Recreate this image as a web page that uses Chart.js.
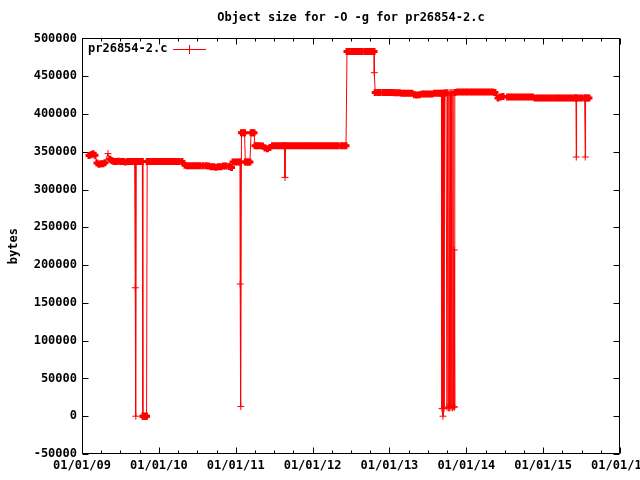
<!DOCTYPE html>
<html>
<head>
<meta charset="utf-8">
<script src="https://cdn.jsdelivr.net/npm/chart.js@4"></script>
<style>
  html, body { margin: 0; padding: 0; background: #fff; }
</style>
</head>
<body>
<canvas id="size_chart" width="640" height="480"></canvas>
<script>
// decimal year, object size in bytes (one entry per build)
const samples2009 = [
  [2009.091, 345000], [2009.117, 346000], [2009.143, 347500], [2009.169, 345500], [2009.195, 335000],
  [2009.221, 333500], [2009.247, 334000], [2009.273, 334000], [2009.299, 335500], [2009.338, 347500],
  [2009.364, 340000], [2009.390, 338000], [2009.416, 337000], [2009.445, 337000], [2009.475, 337500],
  [2009.505, 337000], [2009.535, 337000], [2009.565, 336500], [2009.595, 337000], [2009.625, 337000],
  [2009.655, 337000], [2009.685, 337000], [2009.693, 170000], [2009.696, 337000], [2009.700, 0],
  [2009.705, 337000], [2009.730, 337000], [2009.760, 337000], [2009.785, 337000], [2009.792, 0],
  [2009.805, 0], [2009.818, 0], [2009.830, 0], [2009.840, 0], [2009.848, 337000],
  [2009.875, 337000], [2009.905, 337000], [2009.935, 337000], [2009.965, 337000], [2009.995, 337000]
];
const samples2010 = [
  [2010.025, 337000], [2010.055, 337000], [2010.085, 337000], [2010.115, 337000], [2010.145, 337000],
  [2010.170, 337000], [2010.200, 337000], [2010.232, 337000], [2010.264, 337000], [2010.300, 337000],
  [2010.340, 332000], [2010.373, 331500], [2010.405, 331500], [2010.438, 331500], [2010.470, 331500],
  [2010.503, 331500], [2010.535, 331500], [2010.574, 331500], [2010.613, 331500], [2010.646, 331000],
  [2010.678, 330000], [2010.711, 330000], [2010.743, 329500], [2010.776, 330000], [2010.808, 330000],
  [2010.841, 331000], [2010.873, 331000], [2010.913, 330500], [2010.945, 329000], [2010.965, 336500],
  [2010.997, 336500]
];
const samples2011 = [
  [2011.030, 336500], [2011.055, 336500], [2011.058, 175000], [2011.061, 336500], [2011.066, 12800],
  [2011.075, 375000], [2011.095, 375000], [2011.115, 375000], [2011.125, 336500], [2011.145, 336500],
  [2011.165, 336500], [2011.185, 336500], [2011.200, 375000], [2011.220, 375000], [2011.238, 375000],
  [2011.251, 358000], [2011.283, 358000], [2011.316, 358000], [2011.348, 357500], [2011.381, 355000],
  [2011.413, 354000], [2011.446, 355500], [2011.479, 358000], [2011.511, 358000], [2011.544, 358000],
  [2011.576, 358000], [2011.609, 358000], [2011.635, 358000], [2011.641, 316000], [2011.648, 358000],
  [2011.680, 358000], [2011.713, 358000], [2011.745, 358000], [2011.778, 358000], [2011.810, 358000],
  [2011.843, 358000], [2011.875, 358000], [2011.908, 358000], [2011.940, 358000], [2011.973, 358000]
];
const samples2012 = [
  [2012.005, 358000], [2012.038, 358000], [2012.070, 358000], [2012.103, 358000], [2012.136, 358000],
  [2012.168, 358000], [2012.201, 358000], [2012.233, 358000], [2012.266, 358000], [2012.298, 358000],
  [2012.331, 358000], [2012.370, 358000], [2012.402, 358000], [2012.435, 358000], [2012.448, 482500],
  [2012.480, 482500], [2012.513, 482500], [2012.545, 482500], [2012.578, 482500], [2012.610, 482500],
  [2012.643, 482500], [2012.680, 482500], [2012.710, 482500], [2012.740, 482500], [2012.773, 482500],
  [2012.800, 482500], [2012.803, 454600], [2012.815, 428500], [2012.848, 428500], [2012.880, 428500],
  [2012.920, 428500], [2012.950, 428500], [2012.980, 428500]
];
const samples2013 = [
  [2013.010, 428500], [2013.040, 428500], [2013.070, 428000], [2013.100, 428000], [2013.131, 428000],
  [2013.163, 427500], [2013.196, 427500], [2013.228, 427500], [2013.261, 427500], [2013.294, 427500],
  [2013.326, 425500], [2013.359, 425000], [2013.391, 425500], [2013.424, 426500], [2013.456, 426500],
  [2013.489, 426500], [2013.521, 426500], [2013.554, 426500], [2013.586, 427500], [2013.619, 427500],
  [2013.651, 427500], [2013.677, 427500], [2013.684, 10000], [2013.690, 427500], [2013.697, 0],
  [2013.703, 427500], [2013.710, 10000], [2013.716, 427500], [2013.736, 428000], [2013.749, 12000],
  [2013.758, 428000], [2013.767, 11000], [2013.775, 428000], [2013.784, 11000], [2013.793, 428000],
  [2013.801, 12000], [2013.810, 428000], [2013.819, 11000], [2013.827, 428000], [2013.835, 12800],
  [2013.843, 220000], [2013.848, 12000], [2013.853, 428500], [2013.885, 429000], [2013.918, 429000],
  [2013.950, 429000], [2013.983, 429000]
];
const samples2014 = [
  [2014.015, 429000], [2014.048, 429000], [2014.081, 429000], [2014.113, 429000], [2014.146, 429000],
  [2014.178, 429000], [2014.211, 429000], [2014.243, 429000], [2014.276, 429000], [2014.308, 429000],
  [2014.341, 429000], [2014.373, 428500], [2014.393, 425000], [2014.413, 421000], [2014.445, 422500],
  [2014.478, 423000], [2014.536, 422500], [2014.569, 422500], [2014.601, 422500], [2014.634, 422500],
  [2014.666, 422500], [2014.699, 422500], [2014.731, 422500], [2014.764, 422500], [2014.796, 422500],
  [2014.829, 422500], [2014.861, 422500], [2014.894, 421000], [2014.926, 421000], [2014.959, 421000],
  [2014.991, 421000]
];
const samples2015 = [
  [2015.024, 421000], [2015.056, 421000], [2015.089, 421000], [2015.121, 421000], [2015.154, 421000],
  [2015.186, 421000], [2015.213, 421000], [2015.245, 421000], [2015.278, 421000], [2015.310, 421000],
  [2015.343, 421000], [2015.375, 421000], [2015.408, 421000], [2015.427, 421000], [2015.431, 343000],
  [2015.435, 421000], [2015.466, 421000], [2015.499, 421000], [2015.540, 421000], [2015.548, 343000],
  [2015.552, 421000], [2015.577, 421000], [2015.596, 421000]
];

const yearTicks = [2009, 2010, 2011, 2012, 2013, 2014, 2015, 2016];
const yearLabels = ['01/01/09', '01/01/10', '01/01/11', '01/01/12', '01/01/13', '01/01/14', '01/01/15', '01/01/16'];
const byteTicks = [-50000, 0, 50000, 100000, 150000, 200000, 250000, 300000, 350000, 400000, 450000, 500000];

const allSamples = [].concat(samples2009, samples2010, samples2011, samples2012, samples2013, samples2014, samples2015);

const seriesColor = '#ff0000';
const monoFont = { family: '"DejaVu Sans Mono", monospace', size: 12, weight: 'bold' };

// builds that sit in a run of near-equal sizes get heavier crosses so the run reads as a solid bar
function inRun(i) {
  const near = j => allSamples[j] &&
    Math.abs(allSamples[j][0] - allSamples[i][0]) < 0.045 &&
    Math.abs(allSamples[j][1] - allSamples[i][1]) < 3000;
  return near(i - 1) || near(i + 1);
}

// gnuplot style border with inward ticks (mirrored on top/right)
const frameTicks = {
  id: 'frameTicks',
  beforeDatasetsDraw(chart) {
    const { ctx, chartArea: a, scales: { x, y } } = chart;
    const L = Math.round(a.left) + 0.5, R = Math.round(a.right) - 0.5;
    const T = Math.round(a.top) + 0.5, B = Math.round(a.bottom) - 0.5;
    ctx.save();
    ctx.strokeStyle = '#000';
    ctx.lineWidth = 1;
    ctx.beginPath();
    ctx.rect(L, T, R - L, B - T);
    yearTicks.forEach((yr, i) => {
      [0, 0.25, 0.5, 0.75].forEach(q => {
        if (q && i === yearTicks.length - 1) return;
        const px = Math.round(x.getPixelForValue(yr + q)) + 0.5;
        const len = q ? 3 : 6;
        ctx.moveTo(px, B); ctx.lineTo(px, B - len);
        ctx.moveTo(px, T); ctx.lineTo(px, T + len);
      });
    });
    byteTicks.forEach(v => {
      const py = Math.round(y.getPixelForValue(v)) + 0.5;
      ctx.moveTo(L, py); ctx.lineTo(L + 6, py);
      ctx.moveTo(R, py); ctx.lineTo(R - 6, py);
    });
    ctx.stroke();
    ctx.restore();
  }
};

// key in the top left corner: text first, then line sample
const keyBox = {
  id: 'keyBox',
  afterDatasetsDraw(chart) {
    const ds = chart.data.datasets[0];
    const { ctx, chartArea: a } = chart;
    const ty = Math.round(a.top + 11);
    ctx.save();
    ctx.font = 'bold 12px "DejaVu Sans Mono", monospace';
    ctx.fillStyle = '#000';
    ctx.textBaseline = 'middle';
    ctx.textAlign = 'left';
    ctx.fillText(ds.label, a.left + 6, ty);
    ctx.strokeStyle = seriesColor;
    ctx.lineWidth = 1;
    ctx.beginPath();
    ctx.moveTo(a.left + 91, ty + 0.5); ctx.lineTo(a.left + 124, ty + 0.5);
    ctx.moveTo(a.left + 107.5, ty - 4); ctx.lineTo(a.left + 107.5, ty + 5);
    ctx.stroke();
    ctx.restore();
  }
};

const ctx = document.getElementById('size_chart').getContext('2d');
const sizeChart = new Chart(ctx, {
  type: 'line',
  data: {
    datasets: [{
      label: 'pr26854-2.c',
      data: allSamples.map(([x, y]) => ({ x: x, y: y })),
      borderColor: seriesColor,
      backgroundColor: seriesColor,
      borderWidth: 1,
      pointStyle: 'cross',
      pointRadius: 3.5,
      pointBorderColor: seriesColor,
      pointBorderWidth: c => (inRun(c.dataIndex) ? 3 : 1),
      tension: 0
    }]
  },
  options: {
    responsive: false,
    animation: false,
    events: [],
    layout: { padding: { left: 0, right: 20, top: 0, bottom: 0 } },
    plugins: {
      legend: { display: false },
      tooltip: { enabled: false },
      title: {
        display: true,
        text: 'Object size for -O -g for pr26854-2.c',
        color: '#000',
        font: monoFont,
        fullSize: false,
        padding: { top: 11, bottom: 13 }
      }
    },
    scales: {
      x: {
        type: 'linear',
        min: 2009,
        max: 2016,
        grid: { display: false, drawTicks: false },
        border: { display: false },
        afterBuildTicks: s => { s.ticks = yearTicks.map(v => ({ value: v })); },
        afterFit: s => { s.height = 26; s.paddingLeft = 0; s.paddingRight = 0; },
        ticks: {
          autoSkip: false,
          maxRotation: 0,
          padding: 5,
          color: '#000',
          font: monoFont,
          callback: (v, i) => yearLabels[i]
        }
      },
      y: {
        min: -50000,
        max: 500000,
        grid: { display: false, drawTicks: false },
        border: { display: false },
        afterBuildTicks: s => { s.ticks = byteTicks.map(v => ({ value: v })); },
        afterFit: s => { s.width = 82; },
        ticks: {
          padding: 5,
          color: '#000',
          font: monoFont,
          callback: v => String(v)
        },
        title: {
          display: true,
          text: 'bytes',
          color: '#000',
          font: monoFont,
          padding: { top: 7, bottom: 0 }
        }
      }
    }
  },
  plugins: [frameTicks, keyBox]
});
</script>
</body>
</html>
